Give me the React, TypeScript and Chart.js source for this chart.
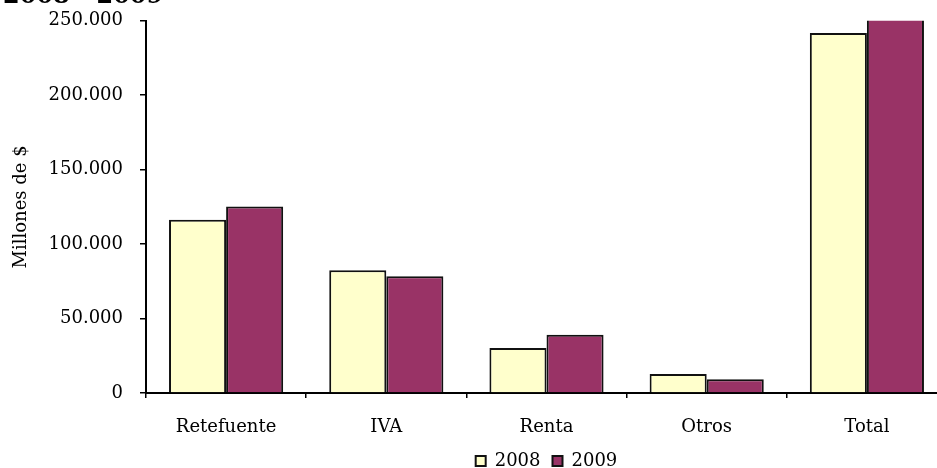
import React, { useEffect, useRef } from "react";
import { Chart, registerables } from "chart.js";

Chart.register(...registerables);

const categories = ["Retefuente", "IVA", "Renta", "Otros", "Total"];
const series2008 = [116300, 82500, 30200, 12800, 241800];
const series2009 = [125200, 78400, 39200, 9200, 252000];
const seriesNames = ["2008", "2009"];
const yTicks = [0, 50000, 100000, 150000, 200000, 250000];
const chartTitle = "2008 - 2009";
const yAxisTitle = "Millones de $";

const fmt = (v: number) => String(v).replace(/\B(?=(\d{3})+(?!\d))/g, ".");

const FONT = "'DejaVu Serif', serif";

export default function App() {
  const ref = useRef<HTMLCanvasElement>(null);
  useEffect(() => {
    if (!ref.current) return;
    const chart = new Chart(ref.current, {
      type: "bar",
      data: {
        labels: categories,
        datasets: [
          {
            label: seriesNames[0],
            data: series2008,
            backgroundColor: "#FFFFCC",
            borderColor: "#111",
            borderWidth: 2,
            categoryPercentage: 0.7125,
            barPercentage: 1,
          },
          {
            label: seriesNames[1],
            data: series2009,
            backgroundColor: "#993366",
            borderColor: "#111",
            borderWidth: 2,
            categoryPercentage: 0.7125,
            barPercentage: 1,
          },
        ],
      },
      options: {
        responsive: false,
        animation: false,
        devicePixelRatio: 1,
        layout: { padding: { left: 3, right: 13, top: 0, bottom: 0 } },
        plugins: {
          title: {
            display: true,
            text: chartTitle,
            align: "start",
            color: "#000",
            font: { family: FONT, size: 24, weight: "bold" },
            padding: { top: 0, bottom: 10 },
          },
          legend: {
            display: true,
            position: "bottom",
            fullSize: false,
            labels: {
              color: "#000",
              font: { family: FONT, size: 18 },
              boxWidth: 10,
              boxHeight: 10,
              padding: 12,
            },
          },
          tooltip: { enabled: false },
        },
        scales: {
          x: {
            grid: {
              display: true,
              drawOnChartArea: false,
              drawTicks: true,
              tickLength: 5,
              color: "#000",
              lineWidth: 1.5,
              offset: true,
            },
            border: { display: true, color: "#000", width: 2 },
            ticks: {
              color: "#000",
              font: { family: FONT, size: 18 },
              padding: 19,
              maxRotation: 0,
            },
            afterFit: (s: any) => {
              s.height = 47;
            },
          },
          y: {
            min: 0,
            max: 250000,
            afterBuildTicks: (s: any) => {
              s.ticks = yTicks.map((v) => ({ value: v }));
            },
            grid: {
              display: true,
              drawOnChartArea: false,
              drawTicks: true,
              tickLength: 6,
              color: "#000",
              lineWidth: 1.5,
            },
            border: { display: true, color: "#000", width: 2 },
            ticks: {
              color: "#000",
              font: { family: FONT, size: 18 },
              padding: 17,
              callback: (v: any) => fmt(Number(v)),
            },
            title: {
              display: true,
              text: yAxisTitle,
              color: "#000",
              font: { family: FONT, size: 18 },
              padding: { top: 8, bottom: 0 },
            },
            afterFit: (s: any) => {
              s.width = 143;
            },
          },
        },
      },
    });
    return () => chart.destroy();
  }, []);

  return (
    <div
      style={{
        position: "fixed",
        left: 0,
        top: 0,
        width: 937,
        height: 468,
        overflow: "hidden",
        background: "#fff",
      }}
    >
      <canvas
        ref={ref}
        width={960}
        height={498}
        style={{ position: "absolute", left: 0, top: -18, width: 960, height: 498 }}
      />
    </div>
  );
}
